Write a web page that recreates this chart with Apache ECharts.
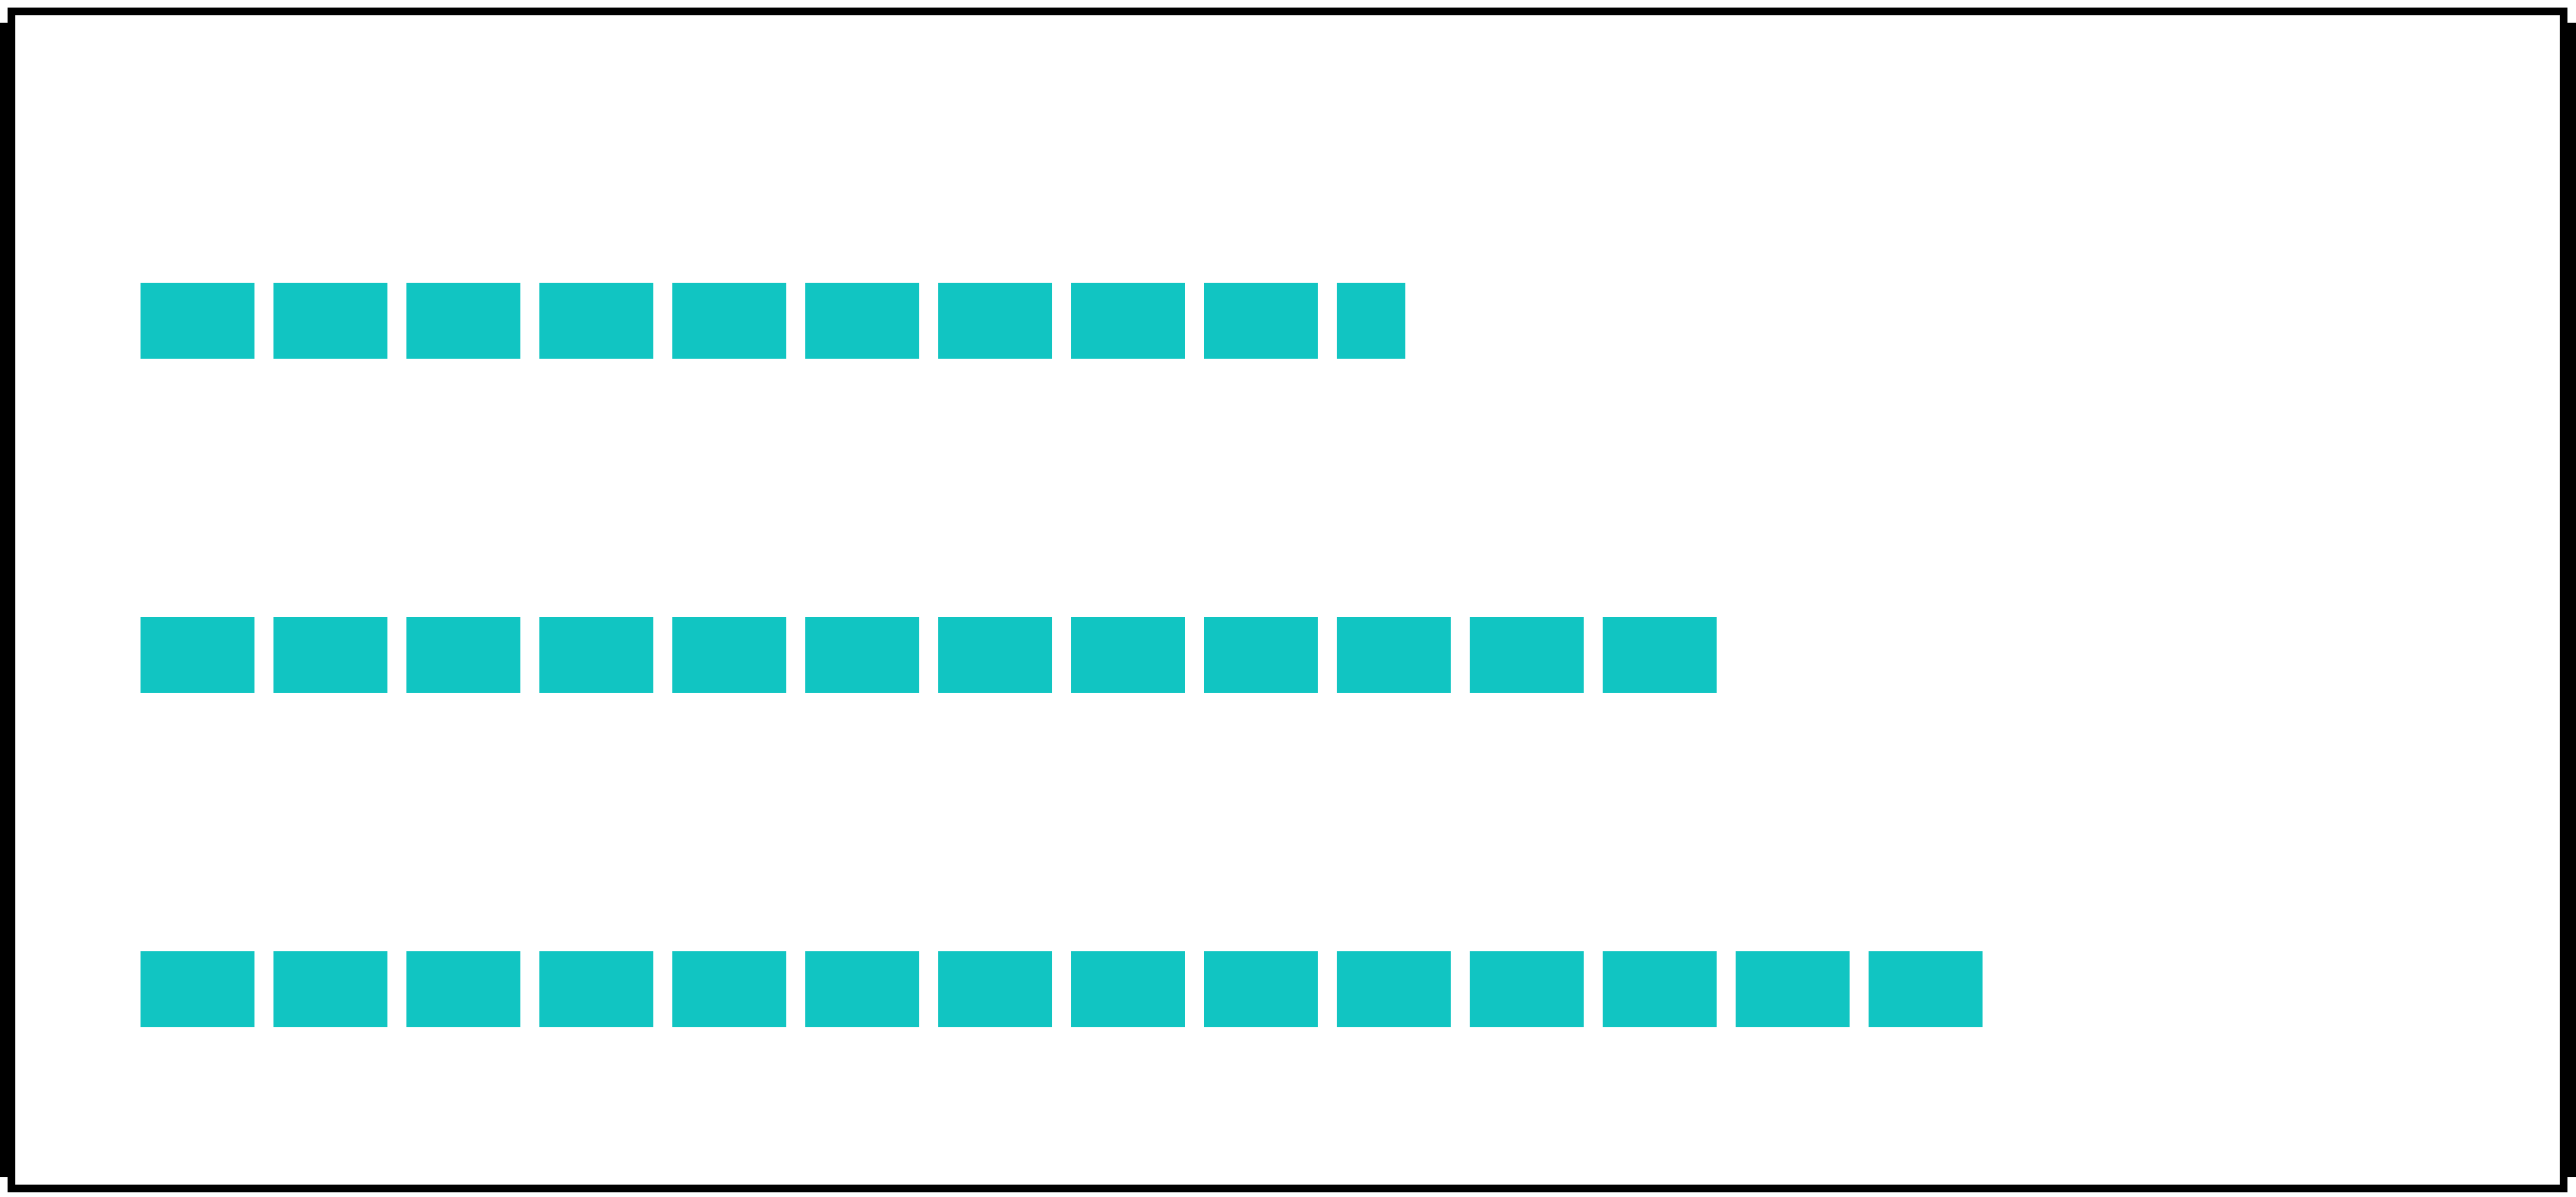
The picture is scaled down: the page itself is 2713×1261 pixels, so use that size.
<!DOCTYPE html>
<html>
<head>
<meta charset="utf-8">
<script src="https://cdn.jsdelivr.net/npm/echarts@6/dist/echarts.min.js"></script>
<style>
html, body { margin: 0; padding: 0; background: #fff; width: 2713px; height: 1261px; overflow: hidden; }
#back { position: absolute; left: 0; top: 24px; width: 2713px; height: 1216px; background: #000; }
#frame { position: absolute; left: 8px; top: 8px; width: 2696px; height: 1248px; box-sizing: border-box; border: 8px solid #000; background: #fff; }
#chart { position: absolute; left: 0; top: 0; width: 2713px; height: 1261px; }
</style>
</head>
<body>
<div id="back"></div>
<div id="frame"></div>
<div id="chart"></div>
<script>
const categories = ['A', 'B', 'C'];
const values = [66.6, 83, 97];
const axisMax = 104;

const chart = echarts.init(document.getElementById('chart'), null, { renderer: 'canvas' });
chart.setOption({
  backgroundColor: 'transparent',
  animation: false,
  grid: { left: 148, top: 162, width: 2080, height: 1056, containLabel: false },
  xAxis: { type: 'value', min: 0, max: axisMax, show: false },
  yAxis: { type: 'category', data: categories, inverse: true, show: false },
  series: [{
    type: 'pictorialBar',
    symbol: 'rect',
    symbolRepeat: true,
    symbolClip: true,
    symbolSize: [120, 80],
    symbolMargin: 10,
    itemStyle: { color: '#11c5c2' },
    data: values
  }]
});
</script>
</body>
</html>
